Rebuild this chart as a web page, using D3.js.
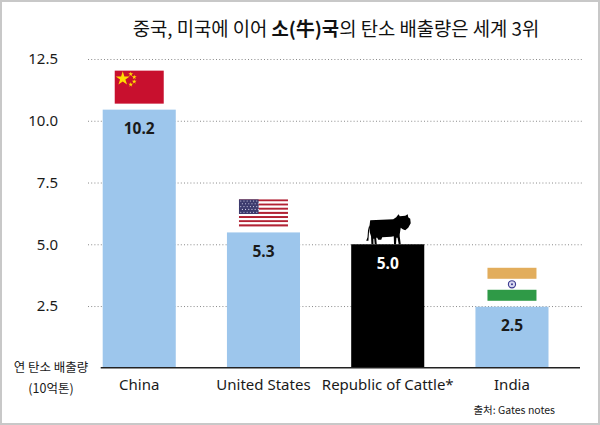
<!DOCTYPE html>
<meta charset="utf-8" />
<script src="https://d3js.org/d3.v7.min.js"></script>
<style>
    body { margin: 0; background: #fff; }
</style>
<div id="my_dataviz"></div>

<script>
    // data
    const categories = ['China', 'United States', 'Republic of Cattle*', 'India']
    const values = [10.45, 5.48, 5.0, 2.47] // bar heights as drawn
    const valueLabels = ['10.2', '5.3', '5.0', '2.5'] // printed labels
    const yTicks = [2.5, 5.0, 7.5, 10.0, 12.5]

    const W = 600, H = 425
    const blue = '#9dc6ec'
    const korean = "'Noto Sans CJK KR', 'Noto Sans', sans-serif"
    const latin = "'Noto Sans', 'Noto Sans CJK KR', sans-serif"

    const svg = d3.select('#my_dataviz')
        .append('svg')
        .attr('width', W)
        .attr('height', H)

    // frame
    svg.append('rect')
        .attr('x', 1).attr('y', 1)
        .attr('width', W - 2).attr('height', H - 2)
        .attr('fill', '#fff')
        .attr('stroke', '#c8c8c8')
        .attr('stroke-width', 2)

    // title (소(牛)국 is bold)
    const title = svg.append('text')
        .attr('x', 336).attr('y', 35.5)
        .attr('text-anchor', 'middle')
        .attr('font-family', korean)
        .attr('font-size', '18.8px')
        .attr('fill', '#111')
    title.append('tspan').text('중국, 미국에 이어 ')
    title.append('tspan').attr('font-weight', 'bold').text('소(牛)국')
    title.append('tspan').text('의 탄소 배출량은 세계 3위')

    // scales
    const x = d3.scaleBand()
        .domain(categories)
        .range([102.7, 548.5])
        .paddingInner(0.412)
        .paddingOuter(0)

    const y = d3.scaleLinear().domain([0, 12.5]).range([367.8, 59])

    // dotted gridlines + tick labels
    const yAxis = svg.append('g')
        .attr('transform', 'translate(88,0)')
        .call(d3.axisRight(y).tickValues(yTicks).tickSize(496).tickFormat(d3.format('.1f')))
    yAxis.select('.domain').remove()
    yAxis.selectAll('.tick line')
        .attr('stroke', '#8a8a8a')
        .attr('stroke-dasharray', '1,2.2')
    yAxis.selectAll('.tick text')
        .attr('x', -30)
        .attr('text-anchor', 'end')
        .attr('font-family', latin)
        .attr('font-size', '15px')
        .attr('fill', '#1a1a1a')

    // bars
    svg.selectAll('.bar')
        .data(categories)
        .join('rect')
        .attr('class', 'bar')
        .attr('x', (d) => x(d))
        .attr('y', (d, i) => y(values[i]))
        .attr('width', x.bandwidth())
        .attr('height', (d, i) => y(0) - y(values[i]))
        .attr('fill', (d) => (d === 'Republic of Cattle*' ? '#000' : blue))

    // value labels
    svg.selectAll('.vlabel')
        .data(categories)
        .join('text')
        .attr('class', 'vlabel')
        .attr('x', (d) => x(d) + x.bandwidth() / 2)
        .attr('y', (d, i) => y(values[i]) + 24.5)
        .attr('text-anchor', 'middle')
        .attr('font-family', latin)
        .attr('font-weight', 'bold')
        .attr('font-size', '15.5px')
        .attr('fill', (d) => (d === 'Republic of Cattle*' ? '#fff' : '#1a1a1a'))
        .text((d, i) => valueLabels[i])

    // baseline
    svg.append('line')
        .attr('x1', 100.7).attr('x2', 580)
        .attr('y1', y(0)).attr('y2', y(0))
        .attr('stroke', '#222')
        .attr('stroke-width', 1.6)

    // category labels
    svg.selectAll('.clabel')
        .data(categories)
        .join('text')
        .attr('class', 'clabel')
        .attr('x', (d) => x(d) + x.bandwidth() / 2)
        .attr('y', 390)
        .attr('text-anchor', 'middle')
        .attr('font-family', latin)
        .attr('font-size', '15px')
        .attr('fill', '#1a1a1a')
        .text((d) => d)

    // y axis title
    svg.append('text')
        .attr('x', 51).attr('y', 372)
        .attr('text-anchor', 'middle')
        .attr('font-family', korean)
        .attr('font-size', '12.5px')
        .attr('fill', '#1a1a1a')
        .text('연 탄소 배출량')
    svg.append('text')
        .attr('x', 51).attr('y', 393)
        .attr('text-anchor', 'middle')
        .attr('font-family', korean)
        .attr('font-size', '12.5px')
        .attr('fill', '#1a1a1a')
        .text('(10억톤)')

    // source
    svg.append('text')
        .attr('x', 555).attr('y', 414)
        .attr('text-anchor', 'end')
        .attr('font-family', korean)
        .attr('font-size', '10.5px')
        .attr('fill', '#1a1a1a')
        .text('출처: Gates notes')

    // flags and cow sitting on top of bars
    const fw = 49
    categories.forEach(function (d, i) {
        const cx = x(d) + x.bandwidth() / 2
        const top = y(values[i])
        if (d === 'China') {
            const fh = 33
            const g = svg.append('g').attr('transform', `translate(${cx - fw / 2},${top - 6 - fh})`)
            g.append('rect').attr('width', fw).attr('height', fh).attr('fill', '#c8102e')
            g.append('path')
                .attr('transform', 'translate(8,8)')
                .attr('d', d3.symbol(d3.symbolStar, 60)())
                .attr('fill', '#ffde00')
            ;[[16, 3.5], [19.5, 6.5], [19.5, 11], [16, 14]].forEach((p) => {
                g.append('path')
                    .attr('transform', `translate(${p[0]},${p[1]})`)
                    .attr('d', d3.symbol(d3.symbolStar, 7)())
                    .attr('fill', '#ffde00')
            })
        } else if (d === 'United States') {
            const fh = 27
            const g = svg.append('g').attr('transform', `translate(${cx - fw / 2},${top - 6 - fh})`)
            d3.range(13).forEach((k) => {
                g.append('rect')
                    .attr('y', (k * fh) / 13)
                    .attr('width', fw)
                    .attr('height', fh / 13)
                    .attr('fill', k % 2 === 0 ? '#b22234' : '#fff')
            })
            const cw = fw * 0.4, ch = (7 * fh) / 13
            g.append('rect').attr('width', cw).attr('height', ch).attr('fill', '#3c3b6e')
            d3.range(5).forEach((r) => {
                d3.range(6).forEach((c) => {
                    g.append('circle')
                        .attr('cx', 1.8 + c * 3.2 + (r % 2) * 1.6)
                        .attr('cy', 1.6 + r * 2.8)
                        .attr('r', 0.55)
                        .attr('fill', '#dcdcf0')
                })
            })
        } else if (d === 'India') {
            const fh = 33
            const g = svg.append('g').attr('transform', `translate(${cx - fw / 2},${top - 6 - fh})`)
            g.append('rect').attr('width', fw).attr('height', 11).attr('fill', '#e2ad5c')
            g.append('rect').attr('y', 22).attr('width', fw).attr('height', 11).attr('fill', '#2f9a47')
            g.append('circle')
                .attr('cx', fw / 2).attr('cy', 16.5).attr('r', 3.6)
                .attr('fill', '#d9d9f0')
                .attr('stroke', '#3b3b8f')
                .attr('stroke-width', 1.1)
            g.append('circle')
                .attr('cx', fw / 2).attr('cy', 16.5).attr('r', 1)
                .attr('fill', '#3b3b8f')
        } else {
            // cow silhouette, 46 x 30, feet on the bar, facing right
            svg.append('path')
                .attr('transform', `translate(${cx - 22.5},${top - 30})`)
                .attr('fill', '#000')
                .attr('d', 'M5,6 L28,5 L31,3 L32.5,1 L33.5,0 L34.5,2 L40,1.5 L42.5,0 L43,3 L45,4.5 L45.5,9 L43,13.5 L40,16 L37.5,15 L35.5,13.5 L34.5,20 L34.5,22 L35.5,30 L33.5,30 L32.3,23.5 L31.2,23.5 L30.8,30 L28.8,30 L28.5,22 L26,22.5 L17,23 L16,25.5 L13,25.5 L12,23.5 L11,23.5 L11.5,30 L9.5,30 L9,24.5 L8.2,24.5 L8.2,30 L6.2,30 L5.8,22 L4.5,18 L4,11 L2.8,16 L2.3,23 L1,26.5 L3.2,26.5 L3.4,23 L3.9,16 L4.6,9 Z')
        }
    })
</script>
